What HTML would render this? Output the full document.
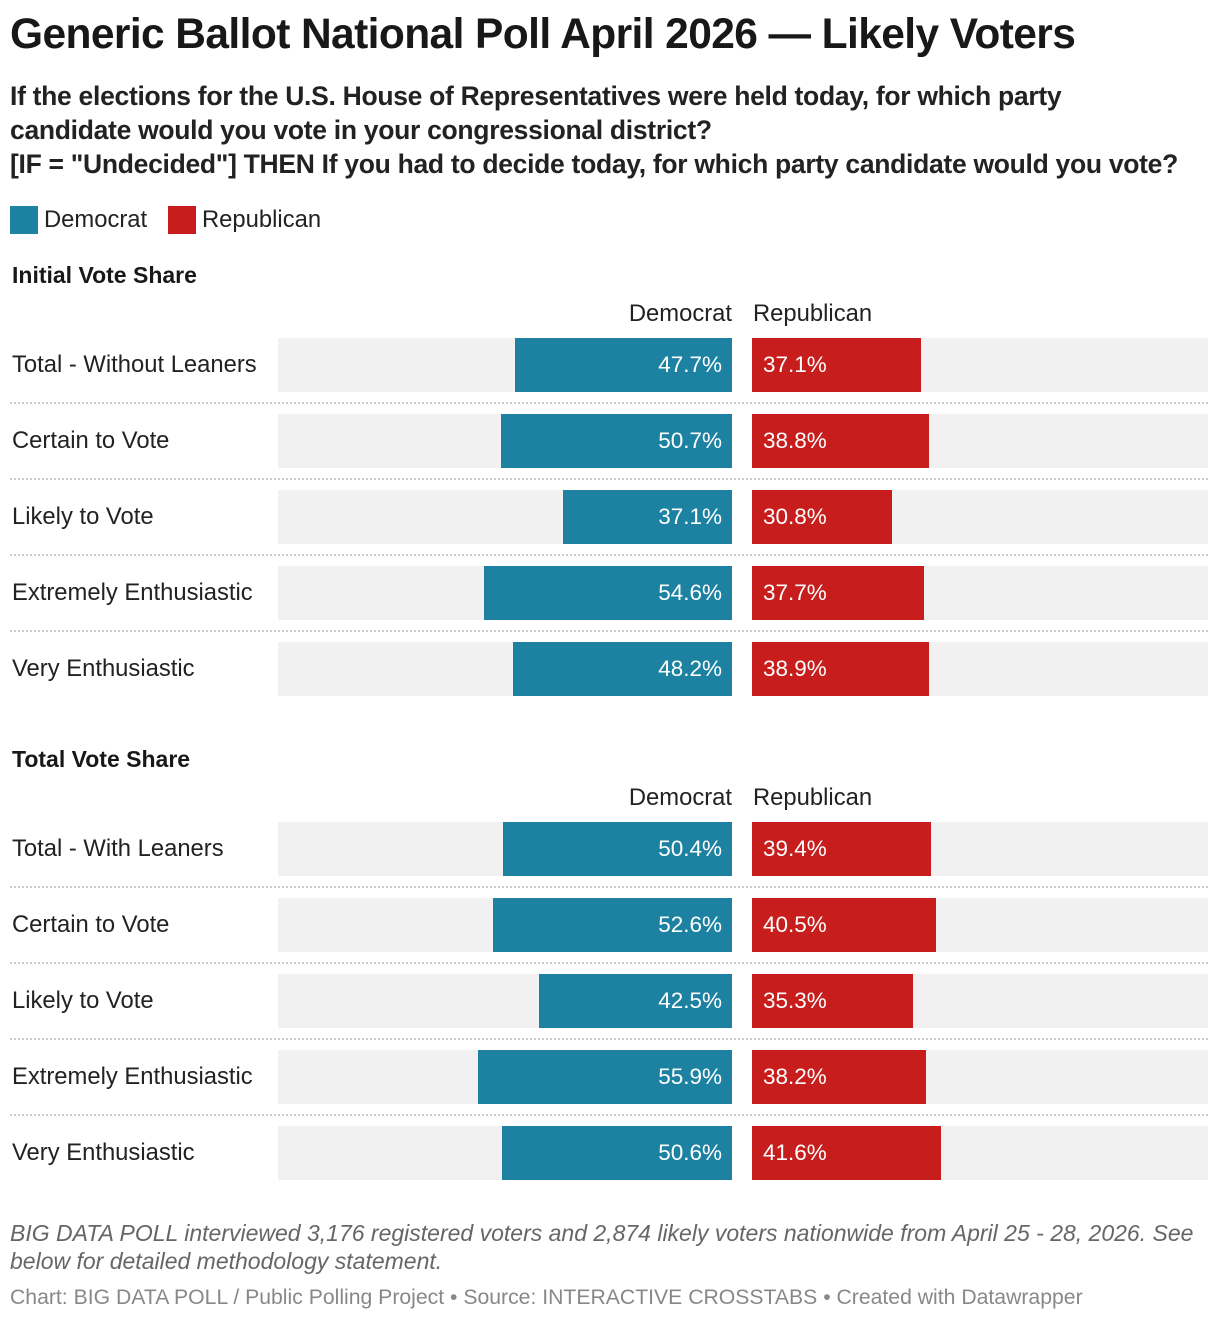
<!DOCTYPE html>
<html><head><meta charset="utf-8">
<style>
body{margin:0;background:#fff;width:1220px;height:1322px;overflow:hidden;font-family:"Liberation Sans",Arial,sans-serif;color:#181818;position:relative}
.abs{position:absolute;white-space:nowrap}
h1{position:absolute;left:10px;top:11px;margin:0;font-size:42.5px;font-weight:bold;letter-spacing:-0.6px}
.sub{left:10px;font-size:26.5px;font-weight:bold;color:#222;letter-spacing:-0.3px}
.lab{font-size:23.8px;color:#222}
.val{font-size:22.5px;color:#fff}
.sec{font-size:23px;font-weight:bold;left:12px}
</style></head><body>
<h1>Generic Ballot National Poll April 2026 — Likely Voters</h1>
<div class="abs sub" style="top:81px">If the elections for the U.S. House of Representatives were held today, for which party</div>
<div class="abs sub" style="top:115px">candidate would you vote in your congressional district?</div>
<div class="abs sub" style="top:149px">[IF = "Undecided"] THEN If you had to decide today, for which party candidate would you vote?</div>
<div class="abs" style="left:10px;top:206px;width:28px;height:28px;background:#1d81a2"></div>
<div class="abs lab" style="left:44px;top:206px">Democrat</div>
<div class="abs" style="left:168px;top:206px;width:28px;height:28px;background:#c71e1d"></div>
<div class="abs lab" style="left:202px;top:206px">Republican</div>
<div id="chart"></div>
<div class="abs" style="left:10px;top:1219px;font-size:23px;font-style:italic;color:#666;line-height:28px;white-space:normal;width:1195px">BIG DATA POLL interviewed 3,176 registered voters and 2,874 likely voters nationwide from April 25 - 28, 2026. See below for detailed methodology statement.</div>
<div class="abs" style="left:10px;top:1286px;font-size:21.2px;color:#888">Chart: BIG DATA POLL / Public Polling Project • Source: INTERACTIVE CROSSTABS • Created with Datawrapper</div>
<script>
const sectionTitles=["Initial Vote Share","Total Vote Share"];
const categories1=["Total - Without Leaners","Certain to Vote","Likely to Vote","Extremely Enthusiastic","Very Enthusiastic"];
const dem1=[47.7,50.7,37.1,54.6,48.2];
const rep1=[37.1,38.8,30.8,37.7,38.9];
const categories2=["Total - With Leaners","Certain to Vote","Likely to Vote","Extremely Enthusiastic","Very Enthusiastic"];
const dem2=[50.4,52.6,42.5,55.9,50.6];
const rep2=[39.4,40.5,35.3,38.2,41.6];
const c=document.getElementById('chart');
const DEM_R=732,REP_L=752,W=455,DEM_L=278;
const sx=v=>v/100*W;
function mk(css,cls){const d=document.createElement('div');d.className='abs '+(cls||'');d.style.cssText=css;c.appendChild(d);return d;}
function section(si,top,cats,dem,rep){
  let d=mk(`top:${top}px`,'sec');d.textContent=sectionTitles[si];
  
  
  d=mk(`right:${1220-DEM_R}px;top:${top+38}px`,'lab');d.textContent='Democrat';
  
  
  d=mk(`left:753px;top:${top+38}px`,'lab');d.textContent='Republican';
  
  
  cats.forEach((cat,i)=>{
    const y=top+76+i*76;
    let e=mk(`left:12px;top:${y+13}px`,'lab');e.textContent=cat;
    
    
    e=mk(`left:${DEM_L}px;top:${y}px;width:${DEM_R-DEM_L}px;height:54px;background:#f1f1f1`);
    
    
    e=mk(`left:${REP_L}px;top:${y}px;width:${1208-REP_L}px;height:54px;background:#f1f1f1`);
    
    
    const dw=sx(dem[i]);
    e=mk(`left:${DEM_R-dw}px;top:${y}px;width:${dw}px;height:54px;background:#1d81a2`);
    
    
    e=mk(`right:${1220-DEM_R+10}px;top:${y+14}px`,'val');e.textContent=dem[i].toFixed(1)+'%';
    
    
    const rw=sx(rep[i]);
    e=mk(`left:${REP_L}px;top:${y}px;width:${rw}px;height:54px;background:#c71e1d`);
    
    
    e=mk(`left:${REP_L+11}px;top:${y+14}px`,'val');e.textContent=rep[i].toFixed(1)+'%';
    
    
    if(i<cats.length-1){
      e=mk(`left:10px;top:${y+64}px;width:1198px;height:0;border-top:2px dotted #ccc`);
      
      
    }
  });
}
section(0,262,categories1,dem1,rep1);
section(1,746,categories2,dem2,rep2);
</script>
</body></html>
